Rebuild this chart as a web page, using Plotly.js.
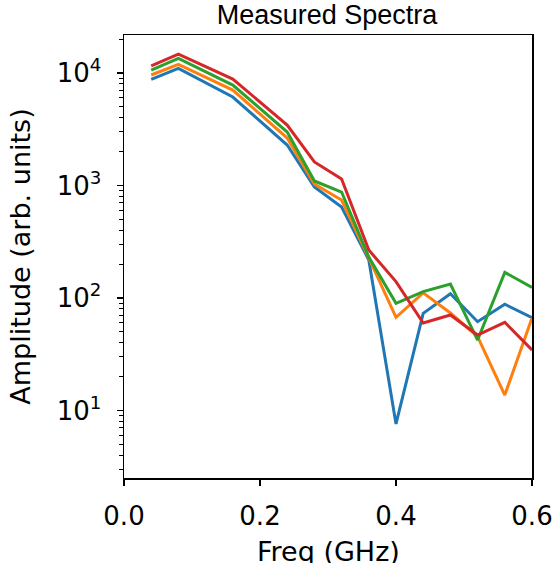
<!DOCTYPE html>
<html>
<head>
<meta charset="utf-8">
<script src="https://cdn.plot.ly/plotly-3.0.1.min.js"></script>
<style>html,body{margin:0;padding:0;background:#fff;}#chart{width:557px;height:563px;}</style>
</head>
<body>
<div id="chart"></div>
<script>
const freqGHz = [0.04, 0.08, 0.16, 0.24, 0.28, 0.32, 0.36, 0.40, 0.44, 0.48, 0.52, 0.56, 0.60];
const spectrum1 = [8790, 11010, 6120, 2290, 970, 644, 218, 7.6, 73, 109, 61.6, 88, 66.8];
const spectrum2 = [9600, 11950, 7060, 2640, 1030, 743, 227, 67.3, 111, 73.6, 45.3, 13.7, 66.4];
const spectrum3 = [10630, 13510, 7820, 2990, 1097, 875, 231, 89.7, 114, 133, 42.3, 169, 124];
const spectrum4 = [11600, 14750, 8840, 3450, 1620, 1143, 267, 140, 60, 70.6, 46.9, 60.8, 34.5];
const xTickVals = [0, 0.2, 0.4, 0.6];
const xTickText = ['0.0', '0.2', '0.4', '0.6'];
const yTickVals = [10, 100, 1000, 10000];
const yTickText = ['10<sup>1</sup>', '10<sup>2</sup>', '10<sup>3</sup>', '10<sup>4</sup>'];
const seriesList = [spectrum1, spectrum2, spectrum3, spectrum4];
const colors = ['#1f77b4', '#ff7f0e', '#2ca02c', '#d62728'];

// minor log tick positions (2..9 x 10^k)
const yMinorVals = [];
for (let k = 0; k <= 4; k++) for (let m = 2; m <= 9; m++) yMinorVals.push(m * Math.pow(10, k));

const traces = seriesList.map((ys, i) => ({
  x: freqGHz, y: ys, type: 'scatter', mode: 'lines',
  line: {color: colors[i], width: 3}, showlegend: false, hoverinfo: 'none'
}));
traces.push({x: [0.3], y: [100], xaxis: 'x', yaxis: 'y2', type: 'scatter', mode: 'markers',
  marker: {opacity: 0, size: 1}, showlegend: false, hoverinfo: 'none'});

const tickFont = {family: 'DejaVu Sans', size: 26, color: '#000'};
const titleFont = {family: 'DejaVu Sans', size: 27, color: '#000'};
const yRange = [0.4, 4.338];
const plotTop = 35, plotBottom = 478;
const layout = {
  width: 557, height: 563,
  margin: {l: 124, r: 25, t: plotTop, b: 563 - plotBottom},
  paper_bgcolor: '#fff', plot_bgcolor: '#fff',
  title: {text: 'Measured Spectra', font: {family: 'Liberation Sans, Arial', size: 27, color: '#000'},
          x: 327/557, xanchor: 'center', xref: 'container', y: 1 - 15/563, yanchor: 'middle', yref: 'container'},
  xaxis: {
    range: [0, 0.6], tickvals: xTickVals, ticktext: xTickText,
    showline: true, linecolor: '#000', linewidth: 1.5, mirror: true,
    ticks: 'outside', ticklen: 6, tickwidth: 1.3, tickcolor: '#000', ticklabelstandoff: 8,
    showgrid: false, zeroline: false, tickfont: tickFont, automargin: false
  },
  yaxis: {
    type: 'log', range: yRange, tickvals: yTickVals, ticktext: yTickText,
    showline: true, linecolor: '#000', linewidth: 1.5, mirror: true,
    ticks: 'outside', ticklen: 6, tickwidth: 1.3, tickcolor: '#000', ticklabelstandoff: 10,
    minor: {tickmode: 'array', tickvals: yMinorVals, ticks: 'outside', ticklen: 3.5, tickwidth: 1, tickcolor: '#000', showgrid: false},
    showgrid: false, zeroline: false, tickfont: tickFont, automargin: false,
    title: {text: 'Amplitude (arb. units)', font: titleFont, standoff: 18}
  },
  yaxis2: {
    type: 'log', range: yRange, overlaying: 'y', side: 'left', anchor: 'x',
    tickmode: 'array', tickvals: yMinorVals, showticklabels: false,
    ticks: 'outside', ticklen: 3.5, tickwidth: 1, tickcolor: '#000',
    showline: false, showgrid: false, zeroline: false, automargin: false
  },
  annotations: [{
    text: 'Freq (GHz)', font: titleFont, showarrow: false,
    xref: 'paper', x: 0.5, xanchor: 'center',
    yref: 'paper', y: (plotBottom - 534) / (plotBottom - plotTop), yanchor: 'top'
  }]
};
Plotly.newPlot('chart', traces, layout, {staticPlot: true, displayModeBar: false});
</script>
</body>
</html>
